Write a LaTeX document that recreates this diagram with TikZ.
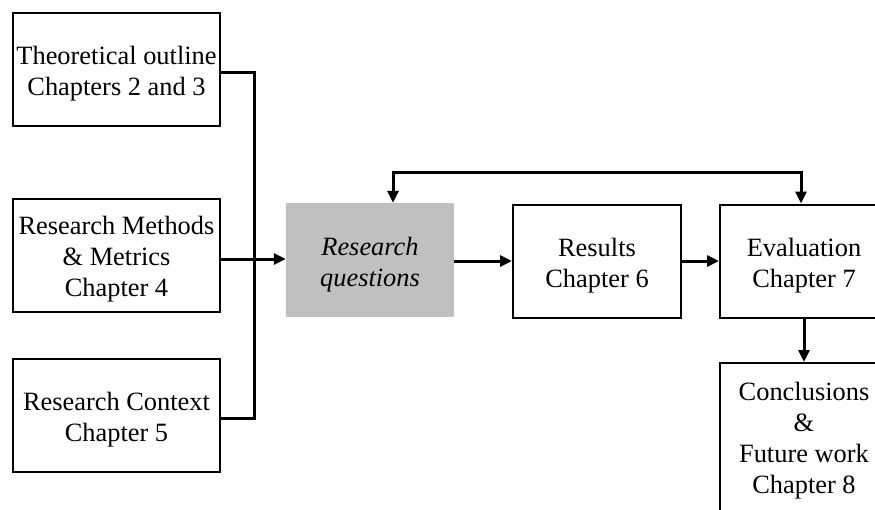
\documentclass[tikz,border=0pt]{standalone}
\usepackage{fontspec}
\setmainfont{Liberation Serif}
\usetikzlibrary{arrows.meta}
% extra head room on a box's first line, setting its text a little lower
\newcommand{\headpad}{\rule{0pt}{27pt}}
\begin{document}
\begin{tikzpicture}[x=1pt,y=-1pt,
  every node/.style={font=\fontsize{26.4pt}{31pt}\selectfont, align=center, inner sep=0pt},
  leftbox/.style={draw, line width=2pt, minimum width=207pt, minimum height=113pt},
  rightbox/.style={draw, line width=2pt, minimum width=168pt, minimum height=113pt},
  rqbox/.style={fill=rqgrey, minimum width=168pt, minimum height=114pt},
  conn/.style={line width=3pt},
  arr/.style={conn, -{Triangle[length=12pt,width=11pt]}},
  darr/.style={conn, {Triangle[length=12pt,width=11pt]}-{Triangle[length=12pt,width=11pt]}}]
\definecolor{rqgrey}{HTML}{C0C0C0}
\clip (0,0) rectangle (875,509);
\useasboundingbox (0,0) rectangle (875,509);

% input chapters
\node[leftbox] (t1) at (116.5,69) {\headpad Theoretical outline\\Chapters 2 and 3};
\node[leftbox] (t2) at (116.5,255) {\headpad Research Methods\\\& Metrics\\Chapter 4};
\node[leftbox] (t3) at (116.5,415) {\headpad Research Context\\Chapter 5};

% main row
\node[rqbox] (rq) at (370,260) {\headpad\itshape Research\\\itshape questions};
\node[rightbox] (res) at (597,261) {\headpad Results\\Chapter 6};
\node[rightbox] (ev) at (804,261) {\headpad Evaluation\\Chapter 7};
\node[draw, line width=2pt, minimum width=168pt, minimum height=156pt] (con) at (804,441)
  {Conclusions\\\&\\Future work\\Chapter 8};

% collecting bus on the left
\coordinate (bustop) at (254,72);
\coordinate (busbot) at (254,418);
\coordinate (busin) at (254,259);
\draw[conn] (t1.east |- bustop) -- (bustop) -- (busbot) -- (t3.east |- busbot);
\draw[arr] (t2.east |- busin) -- (rq.west |- busin);

% forward flow
\draw[arr] (rq.east |- res.west) -- (res.west);
\draw[arr] (res.east) -- (ev.west);
\draw[arr] (ev.south) -- (con.north);

% feedback loop
\coordinate (fbL) at (393,172);
\coordinate (fbR) at (801,172);
\draw[darr] (fbL |- rq.north) -- (fbL) -- (fbR) -- (fbR |- ev.north);
\end{tikzpicture}
\end{document}
